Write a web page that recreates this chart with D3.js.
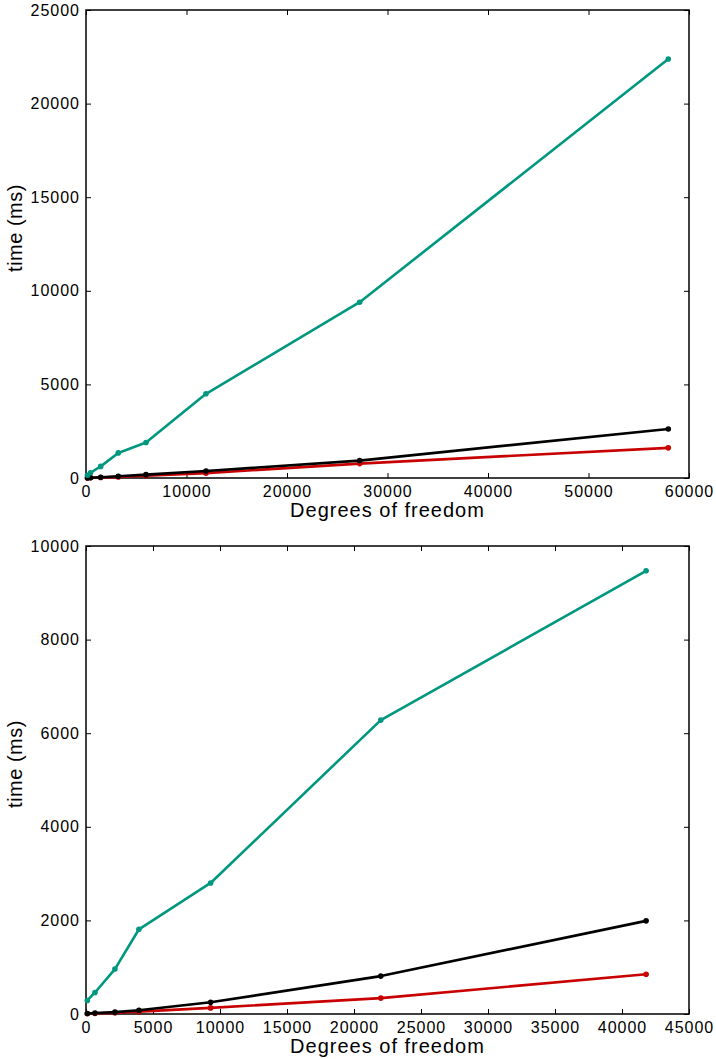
<!DOCTYPE html>
<html>
<head>
<meta charset="utf-8">
<script src="https://cdn.jsdelivr.net/npm/d3@7"></script>
<style>
  html, body { margin: 0; padding: 0; background: #fff; }
  svg { display: block; }
</style>
</head>
<body>
<svg id="chart" width="716" height="1059"></svg>
<script>
// ---- Data ----
// Top panel
const dofTop = [150, 450, 1460, 3210, 5970, 11940, 27230, 57940];
const greenTop = [150, 280, 620, 1340, 1900, 4500, 9390, 22380];
const blackTop = [5, 15, 40, 90, 180, 370, 930, 2620];
const redTop = [3, 10, 30, 60, 120, 260, 770, 1610];
const xTicksTop = [0, 10000, 20000, 30000, 40000, 50000, 60000];
const yTicksTop = [0, 5000, 10000, 15000, 20000, 25000];

// Bottom panel
const dofBottom = [100, 670, 2160, 3950, 9300, 22000, 41800];
const greenBottom = [290, 460, 960, 1810, 2800, 6280, 9470];
const blackBottom = [10, 20, 40, 80, 250, 810, 1990];
const redBottom = [5, 10, 25, 50, 130, 340, 850];
const xTicksBottom = [0, 5000, 10000, 15000, 20000, 25000, 30000, 35000, 40000, 45000];
const yTicksBottom = [0, 2000, 4000, 6000, 8000, 10000];

const xLabel = "Degrees of freedom";
const yLabel = "time (ms)";

const colGreen = "#00977f";
const colBlack = "#000000";
const colRed = "#c80000";

const svg = d3.select("#chart");
const FONT = "'Liberation Sans', Arial, Helvetica, sans-serif";

function panel(opts) {
  const { left, right, top, bottom, xDomain, yDomain, xTicks, yTicks, xs, series } = opts;
  const x = d3.scaleLinear().domain(xDomain).range([left, right]);
  const y = d3.scaleLinear().domain(yDomain).range([bottom, top]);
  const g = svg.append("g");
  const tickLen = 5;

  // inward ticks on all sides
  const axB = d3.axisBottom(x).tickValues(xTicks).tickSizeInner(-tickLen).tickSizeOuter(0).tickPadding(8).tickFormat(d3.format("d"));
  const axT = d3.axisTop(x).tickValues(xTicks).tickSizeInner(-tickLen).tickSizeOuter(0).tickFormat("");
  const axL = d3.axisLeft(y).tickValues(yTicks).tickSizeInner(-tickLen).tickSizeOuter(0).tickPadding(6).tickFormat(d3.format("d"));
  const axR = d3.axisRight(y).tickValues(yTicks).tickSizeInner(-tickLen).tickSizeOuter(0).tickFormat("");

  const styleAxis = sel => {
    sel.select(".domain").remove();
    sel.selectAll(".tick line").attr("stroke", "#000").attr("stroke-width", 1);
    sel.selectAll("text").attr("font-family", FONT).attr("font-size", 16).attr("fill", "#000").style("letter-spacing", "1px");
  };
  g.append("g").attr("transform", `translate(0,${bottom})`).call(axB).call(styleAxis);
  g.append("g").attr("transform", `translate(0,${top})`).call(axT).call(styleAxis);
  g.append("g").attr("transform", `translate(${left},0)`).call(axL).call(styleAxis);
  g.append("g").attr("transform", `translate(${right},0)`).call(axR).call(styleAxis);

  // frame
  g.append("rect").attr("x", left).attr("y", top).attr("width", right - left).attr("height", bottom - top)
    .attr("fill", "none").attr("stroke", "#000").attr("stroke-width", 1.5);

  const line = d3.line().x(d => x(d[0])).y(d => y(d[1]));
  series.forEach(s => {
    const pts = xs.map((v, i) => [v, s.values[i]]);
    g.append("path").datum(pts).attr("d", line).attr("fill", "none")
      .attr("stroke", s.color).attr("stroke-width", 2.6).attr("stroke-linejoin", "round");
    g.selectAll(null).data(pts).enter().append("circle")
      .attr("cx", d => x(d[0])).attr("cy", d => y(d[1])).attr("r", 2.8).attr("fill", s.color);
  });

  // labels
  g.append("text").attr("x", (left + right) / 2).attr("y", bottom + 39)
    .attr("text-anchor", "middle").attr("font-family", FONT).attr("font-size", 20)
    .style("letter-spacing", "1px").text(xLabel);
  g.append("text").attr("transform", `translate(22,${(top + bottom) / 2 - 16}) rotate(-90)`)
    .attr("text-anchor", "middle").attr("font-family", FONT).attr("font-size", 20)
    .style("letter-spacing", "0.5px").text(yLabel);
}

panel({
  left: 86, right: 689, top: 10, bottom: 478,
  xDomain: [0, 60000], yDomain: [0, 25000],
  xTicks: xTicksTop, yTicks: yTicksTop, xs: dofTop,
  series: [
    { values: redTop, color: colRed },
    { values: blackTop, color: colBlack },
    { values: greenTop, color: colGreen }
  ]
});

panel({
  left: 86, right: 689, top: 546, bottom: 1014,
  xDomain: [0, 45000], yDomain: [0, 10000],
  xTicks: xTicksBottom, yTicks: yTicksBottom, xs: dofBottom,
  series: [
    { values: redBottom, color: colRed },
    { values: blackBottom, color: colBlack },
    { values: greenBottom, color: colGreen }
  ]
});
</script>
</body>
</html>
